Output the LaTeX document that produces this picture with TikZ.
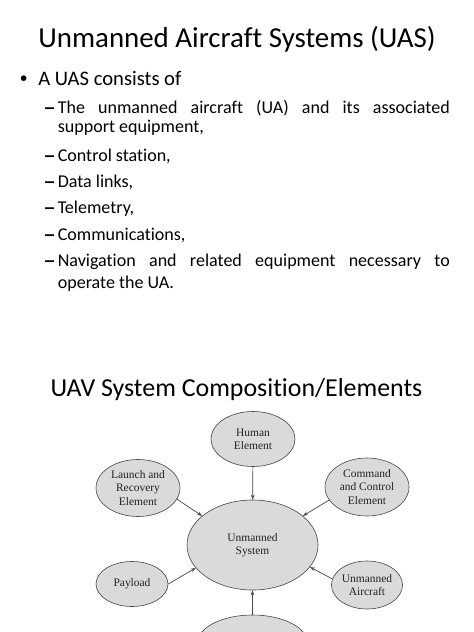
\documentclass[tikz,border=0pt]{standalone}
\usepackage{fontspec}
\setmainfont{Carlito}[Ligatures={NoCommon}]
\newfontfamily\diafont{Liberation Serif}
\newfontfamily\markfont{Liberation Sans}
\usetikzlibrary{arrows.meta}
\usetikzlibrary{shapes.geometric}
\definecolor{elemfill}{RGB}{218,218,218}
\definecolor{elemline}{RGB}{70,70,70}
\definecolor{elemtext}{RGB}{35,35,35}

\begin{document}
\begin{tikzpicture}[x=1bp,y=-1bp,>={Stealth[length=5bp,width=3.6bp]},semithick]
	\tikzstyle{slide}=[inner sep=0pt,anchor=base west]
	\tikzstyle{heading}=[inner sep=0pt,anchor=base,font=\fontsize{29}{34}\selectfont]
	\tikzstyle{lvlone}=[slide,font=\fontsize{20.7}{25}\selectfont]
	\tikzstyle{lvltwo}=[slide,font=\fontsize{18.1}{22}\selectfont]
	\tikzstyle{dashmark}=[slide,font=\markfont\bfseries\fontsize{18.1}{22}\selectfont]
	\tikzstyle{elem}=[ellipse,draw=elemline,fill=elemfill,text=elemtext,line width=0.6bp,
		inner sep=0pt,align=center,font=\diafont\fontsize{11.5}{13.3}\selectfont]
	\tikzstyle{every edge}=[draw=elemline,line width=0.7bp,->]
	
	\fill[white] (0,0) rectangle (474,632);
	\useasboundingbox (0,0) rectangle (474,632);
	\clip (0,0) rectangle (474,632);
	
	% slide text
	\node[heading] (title)    at (237,47.5)  {Unmanned Aircraft Systems (UAS)};
	\node[slide,font=\markfont\fontsize{20.7}{25}\selectfont] (dot) at (19.8,85.7) {•};
	\node[lvlone]  (consists) at (38,85.7)   {A UAS consists of};
	
	\node[dashmark] (dashA)   at (44.3,113.3) {–};
	\node[lvltwo]  (itemA)    at (57.5,113.3) {\makebox[392bp][s]{The unmanned aircraft (UA) and its associated}};
	\node[lvltwo]  (itemAb)   at (57.5,132.7) {support equipment,};
	\node[dashmark] (dashB)   at (44.3,161.7) {–};
	\node[lvltwo]  (itemB)    at (57.5,161.7) {Control station,};
	\node[dashmark] (dashC)   at (44.3,187.3) {–};
	\node[lvltwo]  (itemC)    at (57.5,187.3) {Data links,};
	\node[dashmark] (dashD)   at (44.3,213.3) {–};
	\node[lvltwo]  (itemD)    at (57.5,213.3) {Telemetry,};
	\node[dashmark] (dashE)   at (44.3,240)   {–};
	\node[lvltwo]  (itemE)    at (57.5,240)   {Communications,};
	\node[dashmark] (dashF)   at (44.3,266.7) {–};
	\node[lvltwo]  (itemF)    at (57.5,266.7) {\makebox[392bp][s]{Navigation and related equipment necessary to}};
	\node[lvltwo]  (itemFb)   at (57.5,288.7) {operate the UA.};
	
	\node[heading,font=\fontsize{26}{31}\selectfont] (subtitle) at (236.5,396.7) {UAV System Composition/Elements};
	
	% composition diagram
	\node[elem,minimum width=84bp,minimum height=55bp]  (human)    at (253,439)   {Human\\Element};
	\node[elem,minimum width=84bp,minimum height=57bp]  (launch)   at (138,488)   {Launch and\\Recovery\\Element};
	\node[elem,minimum width=84bp,minimum height=58bp]  (command)  at (367,487)   {Command\\and Control\\Element};
	\node[elem,minimum width=131bp,minimum height=90bp] (system)   at (252.5,545) {Unmanned\\System};
	\node[elem,minimum width=72bp,minimum height=45bp]  (payload)  at (132,584)   {Payload};
	\node[elem,minimum width=71bp,minimum height=48bp]  (aircraft) at (367,585)   {Unmanned\\Aircraft};
	\node[elem,minimum width=110bp,minimum height=56bp] (ground)   at (252.5,643) {};
	
	\path (human)         edge (system)
	      (launch.-16)    edge (system.150)
	      (command.-161)  edge (system.30)
	      (payload.0)     edge (system.-158)
	      (aircraft.170)  edge (system.-21)
	      (ground)        edge (system)
	;
\end{tikzpicture}
\end{document}
